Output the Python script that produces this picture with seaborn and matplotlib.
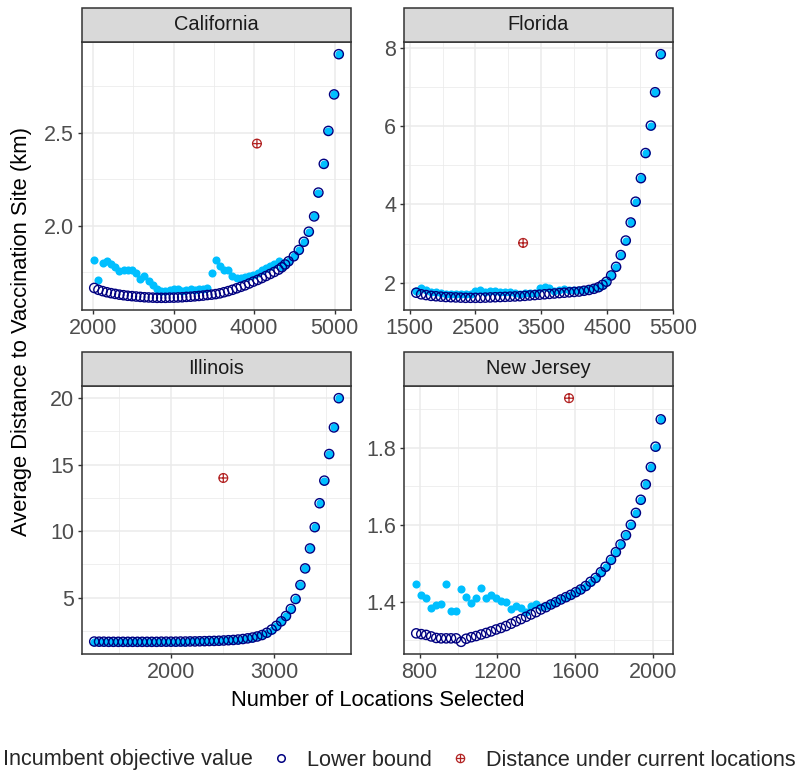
import matplotlib
matplotlib.use("Agg")
import matplotlib.pyplot as plt
from matplotlib.path import Path
from matplotlib.patches import Rectangle
from matplotlib.lines import Line2D
import pandas as pd
import seaborn as sns

# ---------------------------------------------------------------- data
states = ["California", "Florida", "Illinois", "New Jersey"]

ca_x = [2015, 2067, 2119, 2171, 2223, 2275, 2327, 2379, 2431, 2483,
        2535, 2587, 2639, 2691, 2743, 2795, 2847, 2899, 2951, 3003,
        3055, 3107, 3159, 3211, 3263, 3315, 3367, 3419, 3471, 3523,
        3575, 3627, 3679, 3731, 3783, 3835, 3887, 3939, 3991, 4043,
        4095, 4147, 4199, 4251, 4303, 4344, 4385, 4427, 4493, 4555,
        4617, 4679, 4745, 4798, 4865, 4922, 4993, 5051]
ca_lower = [1.666, 1.656, 1.649, 1.643, 1.638, 1.634, 1.630, 1.627, 1.624, 1.622,
            1.620, 1.618, 1.616, 1.615, 1.614, 1.613, 1.613, 1.613, 1.614, 1.614,
            1.615, 1.616, 1.618, 1.619, 1.621, 1.623, 1.625, 1.628, 1.630, 1.633,
            1.637, 1.643, 1.649, 1.656, 1.664, 1.672, 1.680, 1.690, 1.700, 1.709,
            1.719, 1.730, 1.741, 1.752, 1.764, 1.777, 1.792, 1.809, 1.836, 1.870,
            1.914, 1.968, 2.050, 2.178, 2.332, 2.509, 2.705, 2.921]
ca_incumbent = [1.818, 1.707, 1.800, 1.812, 1.795, 1.776, 1.757, 1.765, 1.764, 1.760,
                1.748, 1.712, 1.728, 1.702, 1.683, 1.662, 1.650, 1.648, 1.655, 1.660,
                1.658, 1.652, 1.656, 1.659, 1.656, 1.660, 1.662, 1.665, 1.747, 1.814,
                1.785, 1.760, 1.762, 1.730, 1.722, 1.720, 1.726, 1.732, 1.738, 1.745,
                1.762, 1.775, 1.786, 1.796, 1.812, 1.777, 1.792, 1.809, 1.836, 1.870,
                1.914, 1.968, 2.050, 2.178, 2.332, 2.509, 2.705, 2.921]
ca_current_x = [4035]
ca_current_y = [2.441]

fl_x = [1600, 1675, 1750, 1825, 1900, 1975, 2050, 2125, 2200, 2275,
        2350, 2425, 2500, 2575, 2650, 2725, 2800, 2875, 2950, 3025,
        3100, 3175, 3250, 3325, 3400, 3475, 3550, 3625, 3700, 3775,
        3850, 3925, 4000, 4075, 4150, 4225, 4300, 4370, 4431, 4491,
        4562, 4637, 4708, 4784, 4859, 4934, 5014, 5085, 5165, 5230, 5316]
fl_lower = [1.75, 1.71, 1.69, 1.67, 1.66, 1.65, 1.64, 1.635, 1.63, 1.625,
            1.62, 1.62, 1.62, 1.62, 1.625, 1.63, 1.635, 1.64, 1.645, 1.65,
            1.655, 1.66, 1.67, 1.68, 1.69, 1.70, 1.71, 1.72, 1.73, 1.74,
            1.75, 1.76, 1.77, 1.78, 1.80, 1.82, 1.85, 1.89, 1.95, 2.03,
            2.19, 2.41, 2.71, 3.08, 3.54, 4.07, 4.67, 5.31, 6.01, 6.86, 7.83]
fl_incumbent = [1.80, 1.86, 1.83, 1.78, 1.76, 1.74, 1.73, 1.72, 1.72, 1.72,
                1.71, 1.72, 1.80, 1.82, 1.78, 1.80, 1.79, 1.77, 1.78, 1.76,
                1.74, 1.73, 1.74, 1.75, 1.74, 1.86, 1.89, 1.88, 1.80, 1.83,
                1.84, 1.83, 1.82, 1.82, 1.83, 1.84, 1.86, 1.89, 1.95, 2.03,
                2.19, 2.41, 2.71, 3.08, 3.54, 4.07, 4.67, 5.31, 6.01, 6.86, 7.83]
fl_current_x = [3224]
fl_current_y = [3.02]

il_x = [1255, 1302, 1348, 1395, 1441, 1488, 1534, 1581, 1627, 1674,
        1720, 1767, 1813, 1860, 1906, 1953, 1999, 2046, 2092, 2139,
        2185, 2232, 2278, 2325, 2371, 2418, 2464, 2511, 2557, 2604,
        2650, 2697, 2743, 2790, 2836, 2883, 2929, 2976, 3022, 3069,
        3115, 3162, 3208, 3255, 3301, 3348, 3394, 3441, 3487, 3534,
        3580, 3627]
il_lower = [1.70, 1.69, 1.69, 1.68, 1.68, 1.68, 1.68, 1.68, 1.68, 1.68,
            1.68, 1.68, 1.68, 1.68, 1.69, 1.69, 1.69, 1.69, 1.70, 1.70,
            1.71, 1.71, 1.72, 1.73, 1.74, 1.75, 1.76, 1.78, 1.80, 1.82,
            1.85, 1.89, 1.94, 2.00, 2.08, 2.19, 2.36, 2.60, 2.88, 3.22,
            3.62, 4.15, 4.90, 5.95, 7.20, 8.70, 10.3, 12.1, 13.8, 15.8,
            17.8, 20.0]
il_incumbent = [1.70, 1.69, 1.69, 1.68, 1.68, 1.68, 1.68, 1.68, 1.68, 1.68,
                1.68, 1.68, 1.68, 1.68, 1.69, 1.69, 1.69, 1.69, 1.70, 1.70,
                1.71, 1.71, 1.72, 1.73, 1.74, 1.75, 1.76, 1.78, 1.80, 1.82,
                1.85, 1.89, 1.94, 2.00, 2.08, 2.19, 2.36, 2.60, 2.88, 3.22,
                3.62, 4.15, 4.90, 5.95, 7.20, 8.70, 10.3, 12.1, 13.8, 15.8,
                17.8, 20.0]
il_current_x = [2507]
il_current_y = [14.0]

nj_x = [783, 809, 834, 860, 886, 911, 937, 962, 988, 1014,
        1040, 1066, 1091, 1117, 1143, 1168, 1194, 1219, 1245, 1271,
        1296, 1322, 1348, 1373, 1399, 1424, 1450, 1476, 1501, 1527,
        1553, 1578, 1604, 1629, 1655, 1680, 1706, 1733, 1757, 1785,
        1810, 1834, 1862, 1887, 1913, 1938, 1964, 1990, 2014, 2041]
nj_lower = [1.318, 1.316, 1.314, 1.310, 1.306, 1.305, 1.305, 1.305, 1.305, 1.296,
            1.304, 1.308, 1.311, 1.315, 1.319, 1.323, 1.328, 1.332, 1.337, 1.343,
            1.349, 1.355, 1.361, 1.367, 1.373, 1.380, 1.386, 1.393, 1.399, 1.406,
            1.412, 1.418, 1.425, 1.432, 1.441, 1.452, 1.462, 1.477, 1.491, 1.509,
            1.529, 1.549, 1.573, 1.600, 1.631, 1.665, 1.705, 1.750, 1.803, 1.874]
nj_incumbent = [1.445, 1.417, 1.410, 1.384, 1.391, 1.393, 1.445, 1.377, 1.377, 1.434,
                1.412, 1.397, 1.409, 1.436, 1.410, 1.417, 1.410, 1.402, 1.400, 1.381,
                1.389, 1.384, 1.374, 1.389, 1.393, 1.387, 1.389, 1.395, 1.399, 1.406,
                1.412, 1.418, 1.425, 1.432, 1.441, 1.452, 1.462, 1.477, 1.491, 1.509,
                1.529, 1.549, 1.573, 1.600, 1.631, 1.665, 1.705, 1.750, 1.803, 1.874]
nj_current_x = [1569]
nj_current_y = [1.929]

ca_xticks = [2000, 3000, 4000, 5000]
ca_yticks = [2.0, 2.5]
ca_ylabels = ["2.0", "2.5"]
fl_xticks = [1500, 2500, 3500, 4500, 5500]
fl_yticks = [2, 4, 6, 8]
fl_ylabels = ["2", "4", "6", "8"]
il_xticks = [2000, 3000]
il_yticks = [5, 10, 15, 20]
il_ylabels = ["5", "10", "15", "20"]
nj_xticks = [800, 1200, 1600, 2000]
nj_yticks = [1.4, 1.6, 1.8]
nj_ylabels = ["1.4", "1.6", "1.8"]

legend_labels = ["Incumbent objective value", "Lower bound",
                 "Distance under current locations"]
x_title = "Number of Locations Selected"
y_title = "Average Distance to Vaccination Site (km)"

# ---------------------------------------------------------------- style
sns.set_theme(style="white")
plt.rcParams["font.family"] = ["Liberation Sans", "DejaVu Sans"]

CYAN = "#00BFFF"
NAVY = "#000080"
RED = "#B22222"
GRID = "#EBEBEB"
DARK = "#333333"

# circle with a plus inside (the "current locations" symbol)
oplus = Path.make_compound_path(
    Path.unit_circle(),
    Path([[-1, 0], [1, 0], [0, -1], [0, 1]],
         [Path.MOVETO, Path.LINETO, Path.MOVETO, Path.LINETO]),
)

W, H = 807, 773
fig = plt.figure(figsize=(W / 100, H / 100), dpi=100)

PANEL_W, PANEL_H, STRIP_H = 269, 268, 34
lefts = [82, 404]
tops = [42, 386]


def expand(lo, hi, frac=0.05):
    pad = (hi - lo) * frac
    return lo - pad, hi + pad


def minor_between(ticks):
    step = ticks[1] - ticks[0]
    return [ticks[0] - step / 2] + [t + step / 2 for t in ticks]


panels = [
    ("California", ca_x, ca_incumbent, ca_lower, ca_current_x, ca_current_y, ca_xticks, ca_yticks, ca_ylabels),
    ("Florida", fl_x, fl_incumbent, fl_lower, fl_current_x, fl_current_y, fl_xticks, fl_yticks, fl_ylabels),
    ("Illinois", il_x, il_incumbent, il_lower, il_current_x, il_current_y, il_xticks, il_yticks, il_ylabels),
    ("New Jersey", nj_x, nj_incumbent, nj_lower, nj_current_x, nj_current_y, nj_xticks, nj_yticks, nj_ylabels),
]

for i, (name, xs, inc, low, cx, cy, xt, yt, ylabels) in enumerate(panels):
    col, row = i % 2, i // 2
    rect = [lefts[col] / W, 1 - (tops[row] + PANEL_H) / H, PANEL_W / W, PANEL_H / H]
    ax = fig.add_axes(rect)

    df = pd.DataFrame({"locations": xs, "incumbent": inc, "lower": low})
    cur = pd.DataFrame({"locations": cx, "distance": cy})

    sns.scatterplot(data=df, x="locations", y="incumbent", ax=ax, s=34,
                    color=CYAN, linewidth=0, zorder=3, legend=False)
    sns.scatterplot(data=df, x="locations", y="lower", ax=ax, s=44,
                    facecolor="none", edgecolor=NAVY, linewidth=1.0,
                    zorder=4, legend=False)
    sns.scatterplot(data=cur, x="locations", y="distance", ax=ax, s=40,
                    marker=oplus, facecolor="none", edgecolor=RED,
                    linewidth=0.9, zorder=5, legend=False)

    ax.set_xticks(xt)
    ax.set_xticklabels([f"{t:g}" for t in xt])
    ax.set_yticks(yt)
    ax.set_yticklabels(ylabels)
    ax.set_xticks(minor_between(xt), minor=True)
    ax.set_yticks(minor_between(yt), minor=True)
    ax.set_xlim(*expand(min(xs + cx), max(xs + cx)))
    ax.set_ylim(*expand(min(low + inc + cy), max(low + inc + cy)))

    ax.set_axisbelow(True)
    ax.grid(which="major", color=GRID, linewidth=1.1)
    ax.grid(which="minor", color=GRID, linewidth=0.55)
    ax.tick_params(which="major", direction="out", length=3.2, width=1.0,
                   color=DARK, labelcolor="#4D4D4D", labelsize=15.5, pad=2.5,
                   bottom=True, left=True)
    ax.tick_params(which="minor", length=0)
    for sp in ax.spines.values():
        sp.set_color(DARK)
        sp.set_linewidth(1.1)
    ax.set_xlabel("")
    ax.set_ylabel("")

    sh = STRIP_H / PANEL_H
    ax.add_patch(Rectangle((0, 1), 1, sh, transform=ax.transAxes, clip_on=False,
                           facecolor="#D9D9D9", edgecolor=DARK, linewidth=1.1,
                           zorder=10))
    ax.text(0.5, 1 + sh / 2, name, transform=ax.transAxes, ha="center",
            va="center", fontsize=14.4, color="#1A1A1A", zorder=11)

fig.text(378 / W, 1 - 700 / H, x_title, ha="center", va="center",
         fontsize=15.8, color="black")
fig.text(22 / W, 1 - 331 / H, y_title, ha="center", va="center",
         rotation=90, fontsize=15.8, color="black")

handles = [
    Line2D([], [], ls="none", marker="o", ms=5.8, mfc=CYAN, mec="none"),
    Line2D([], [], ls="none", marker="o", ms=5.4, mfc="none", mec=NAVY, mew=1.1),
    Line2D([], [], ls="none", marker=oplus, ms=6.0, mfc="none", mec=RED, mew=0.9),
]
fig.legend(handles, legend_labels, loc="center left",
           bbox_to_anchor=(-34.3 / W, 1 - 760 / H), ncol=3, frameon=False,
           fontsize=15.6, handlelength=1.0, handletextpad=0.7,
           columnspacing=0.81, borderpad=0, borderaxespad=0)

fig.savefig("out.png", dpi=100)
